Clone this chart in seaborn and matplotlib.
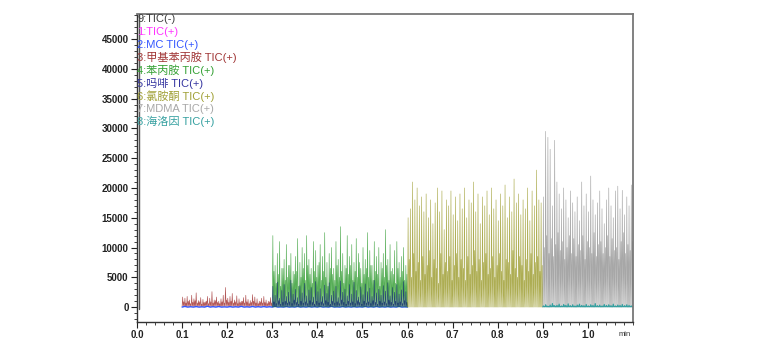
import numpy as np
import matplotlib
matplotlib.use("Agg")
import matplotlib.pyplot as plt
import seaborn as sns
from matplotlib.ticker import MultipleLocator

sns.set_style("white")
plt.rcParams['font.family'] = ['Liberation Sans', 'Noto Sans CJK SC', 'DejaVu Sans']

# ---------------- data ----------------
legend_labels = ["9:TIC(-)", "1:TIC(+)", "2:MC TIC(+)", "3:甲基苯丙胺 TIC(+)", "4:苯丙胺 TIC(+)",
                 "5:吗啡 TIC(+)", "6:氯胺酮 TIC(+)", "7:MDMA TIC(+)", "8:海洛因 TIC(+)"]
legend_colors = ["#404040", "#ff33ff", "#3355ff", "#a03535", "#33a033",
                 "#3535a0", "#a0a035", "#a8a8a8", "#35a0a0"]

xticks = [0.0, 0.1, 0.2, 0.3, 0.4, 0.5, 0.6, 0.7, 0.8, 0.9, 1.0]
yticks = [0, 5000, 10000, 15000, 20000, 25000, 30000, 35000, 40000, 45000]

# time windows (min)
red_range = (0.1, 0.3)
mc_range = (0.1, 0.6)
green_range = (0.3, 0.6)
navy_range = (0.3, 0.6)
olive_range = (0.6, 0.9)
gray_range = (0.9, 1.1)
teal_range = (0.9, 1.1)

red_peaks = [1700, 1500, 1800, 1200, 2000, 1400, 2400, 1100, 1600, 1300,
             900, 1800, 1500, 2600, 1200, 1700, 1000, 1400, 2000, 3300,
             1500, 1800, 2300, 1200, 1900, 1400, 1000, 1600, 2000, 1300,
             1100, 2100, 1700, 1400, 1000, 1500, 1800, 1200, 1000, 1600]
red_mids = [900, 700, 1000, 600, 800, 1100, 700, 900, 500, 800,
            1000, 600, 900, 700, 1100, 800, 600, 900, 700, 1200,
            800, 1000, 700, 900, 600, 800, 1000, 700, 900, 600,
            800, 1000, 700, 600, 900, 700, 800, 600, 900, 700]
red_base = 100

mc_peaks = [120, 90, 150, 100, 80, 130, 110, 90, 140, 100,
            120, 90, 110, 130, 100, 80, 120, 110, 90, 130]
mc_mids = [60, 50, 70, 40, 60, 50, 70, 60, 40, 50,
           60, 70, 50, 40, 60, 50, 70, 60, 50, 40]
mc_base = 0

green_peaks = [12000, 7000, 9000, 11000, 6500, 8000, 10500, 7000, 9000, 6000,
               8500, 11500, 7500, 10000, 9000, 12000, 8000, 6500, 11000, 9500,
               7000, 10500, 8500, 12500, 7500, 9000, 10000, 6500, 11000, 8000,
               13500, 9000, 7000, 12000, 8500, 10500, 7500, 11500, 9000, 6500,
               10000, 8000, 12500, 9500, 7000, 11000, 8500, 10000, 7500, 9000,
               13000, 8000, 10500, 6500, 9500, 11000, 7500, 8500, 10000, 7000]
green_mids = [6000, 4000, 5500, 3500, 6500, 4500, 5000, 7000, 4000, 5500,
              6000, 3500, 5000, 6500, 4500, 7000, 5500, 4000, 6000, 5000,
              7500, 4500, 6000, 5000, 3500, 6500, 5500, 4500, 7000, 5000,
              6000, 4000, 6500, 5500, 7000, 4500, 6000, 5000, 7500, 4000,
              5500, 6500, 5000, 7000, 4500, 6000, 5500, 3500, 6500, 5000,
              7000, 4500, 6000, 5500, 4000, 6500, 5000, 6000, 4500, 5500]
green_base = 0

navy_peaks = [3500, 2000, 4200, 1500, 2800, 3800, 1800, 2500, 4500, 2200,
              3000, 1600, 3600, 2400, 4000, 1900, 2900, 3300, 1700, 4300,
              2600, 3100, 1800, 3700, 2300, 4100, 2000, 2700, 3500, 1600,
              4400, 2500, 3000, 1900, 3800, 2200, 4200, 2800, 1700, 3400,
              2100, 3900, 2600, 3200, 1800, 4500, 2400, 3000, 2000, 3600,
              2700, 4100, 1900, 3300, 2500, 3800, 2200, 2900, 4300, 2600]
navy_mids = [900, 600, 1100, 500, 800, 1000, 700, 900, 600, 1200,
             800, 500, 1000, 700, 900, 600, 1100, 800, 500, 1000,
             700, 900, 600, 1100, 800, 500, 1000, 700, 900, 600,
             1200, 800, 500, 1000, 700, 900, 600, 1100, 800, 500,
             1000, 700, 900, 600, 1100, 800, 500, 1000, 700, 900,
             600, 1200, 800, 500, 1000, 700, 900, 600, 1100, 800]
navy_base = 100

olive_peaks = [15000, 16500, 21000, 18000, 20000, 17000, 18500, 16000, 19000, 15000,
               18000, 14000, 17500, 20000, 16000, 19500, 13000, 18000, 17000, 19500,
               15500, 18500, 14500, 19000, 16500, 20000, 15000, 18000, 17500, 21000,
               16000, 19000, 14000, 18500, 17000, 19500, 15500, 20000, 16500, 18000,
               14500, 19000, 17000, 20500, 15000, 18500, 16000, 21500, 17500, 19000,
               15500, 18000, 16500, 20000, 14500, 19500, 17000, 23000, 18000, 17500]
olive_mids = [8000, 5000, 9000, 6000, 7500, 4500, 8500, 5500, 7000, 9500,
              5000, 8000, 6500, 4000, 9000, 5500, 7500, 6000, 8500, 4500,
              7000, 9000, 5000, 8000, 6500, 4500, 8500, 5500, 7000, 9500,
              6000, 8000, 4500, 7500, 9000, 5500, 6500, 8500, 5000, 7000,
              9000, 6000, 4500, 8000, 7500, 5500, 9500, 6500, 5000, 8500,
              7000, 4500, 8000, 6000, 9000, 5500, 7500, 8500, 6000, 7000]
olive_base = 0

gray_peaks = [18500, 29500, 28500, 26500, 17000, 28000, 21000, 19000, 16500, 20000,
              18000, 15000, 19500, 17500, 16000, 18500, 14500, 21000, 17000, 19000,
              16000, 22000, 18000, 15500, 17500, 19500, 16500, 14000, 18000, 20000,
              17000, 15000, 19500, 20300, 16500, 19600, 15500, 18500, 17000, 20500]
gray_mids = [10000, 12000, 9000, 11500, 8500, 10500, 12500, 9500, 11000, 8000,
             10000, 12000, 9000, 11500, 8500, 10500, 9500, 12000, 8000, 11000,
             10000, 9000, 12500, 8500, 10500, 11000, 9000, 10000, 12000, 8500,
             11500, 9500, 10000, 8000, 11000, 12500, 9000, 10500, 9500, 11000]
gray_base = 0

teal_peaks = [200, 400, 150, 350, 600, 250, 300, 500, 200, 450,
              300, 550, 250, 400, 200, 350, 500, 300, 250, 450,
              200, 400, 300, 600, 250, 350, 200, 450, 300, 400,
              250, 500, 200, 350, 300, 450, 250, 400, 300, 200]
teal_mids = [100, 150, 80, 120, 200, 100, 150, 90, 120, 180,
             100, 150, 90, 120, 100, 160, 80, 140, 100, 120,
             90, 150, 110, 130, 100, 90, 140, 120, 100, 150,
             80, 120, 100, 140, 90, 110, 130, 100, 120, 90]
teal_base = 50


def trace(rng, peaks, mids, base):
    vals = []
    for p, m in zip(peaks, mids):
        vals += [base, p, base, m]
    vals.append(base)
    t = np.linspace(rng[0], rng[1], len(vals))
    return t, np.array(vals, dtype=float)


W, H = 757, 340
fig = plt.figure(figsize=(W / 100, H / 100), dpi=100)
ax = fig.add_axes([137 / W, 1 - 322 / H, (633 - 137) / W, (322 - 14) / H])

series = [
    (red_range, red_peaks, red_mids, red_base, "#9a2020", 0.45, 0.75),
    (mc_range, mc_peaks, mc_mids, mc_base, "#3355ff", 1.0, 1.0),
    (green_range, green_peaks, green_mids, green_base, "#1f931f", 0.45, 0.75),
    (navy_range, navy_peaks, navy_mids, navy_base, "#14306e", 0.45, 0.85),
    (olive_range, olive_peaks, olive_mids, olive_base, "#8e8e10", 0.45, 0.72),
    (gray_range, gray_peaks, gray_mids, gray_base, "#8a8a8a", 0.45, 0.75),
    (teal_range, teal_peaks, teal_mids, teal_base, "#35a0a0", 0.8, 1.0),
]
for rng, pk, md, base, col, lw, al in series:
    t, v = trace(rng, pk, md, base)
    sns.lineplot(x=t, y=v, ax=ax, color=col, lw=lw, alpha=al, estimator=None,
                 sort=False, legend=False)

# vertical trace at time zero
ax.plot([0.0055, 0.0055], [-250, 49200], color="#555555", lw=1.0)

ax.set_xlim(0, 1.1)
ax.set_ylim(-2500, 49200)
ax.set_xticks(xticks)
ax.set_xticklabels([f"{x:.1f}" for x in xticks])
ax.set_yticks(yticks)
ax.set_yticklabels([str(y) for y in yticks])
ax.xaxis.set_minor_locator(MultipleLocator(0.02))
ax.yaxis.set_minor_locator(MultipleLocator(1000))
ax.tick_params(axis="both", which="major", direction="out", length=4, width=0.8,
               labelsize=7, colors="#222222", pad=2, bottom=True, left=True)
ax.tick_params(axis="both", which="minor", direction="out", length=2, width=0.6,
               colors="#222222", bottom=True, left=True)
for lab in ax.get_xticklabels() + ax.get_yticklabels():
    lab.set_fontweight("bold")
ax.set_xlabel("")
ax.set_ylabel("")

for s in ["left", "bottom"]:
    ax.spines[s].set_color("#333333")
    ax.spines[s].set_linewidth(1.0)
for s in ["top", "right"]:
    ax.spines[s].set_color("#777777")
    ax.spines[s].set_linewidth(1.3)

fig.text(625 / W, 1 - 335 / H, "min", fontsize=5.5, color="#333333", ha="center", va="center")

y0 = 19
for i, (lab, col) in enumerate(zip(legend_labels, legend_colors)):
    fig.text(137 / W, 1 - (y0 + 12.8 * i) / H, lab, fontsize=8.0, color=col,
             ha="left", va="center", zorder=10)

fig.savefig("out.png", dpi=100)
